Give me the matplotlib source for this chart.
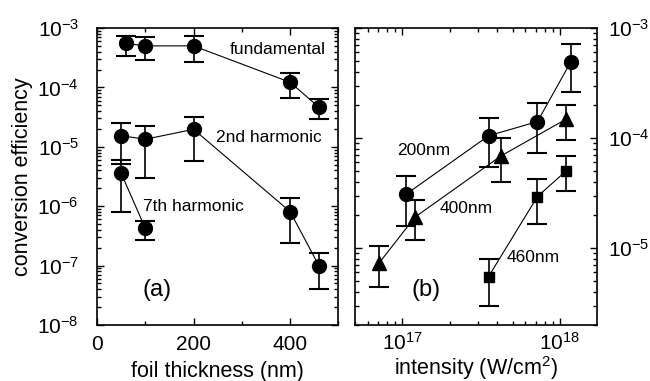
import numpy as np
import matplotlib
matplotlib.use('Agg')
import matplotlib.pyplot as plt
from matplotlib.ticker import LogLocator, MultipleLocator, NullFormatter

plt.rcParams['font.family'] = ['Liberation Sans', 'DejaVu Sans']
plt.rcParams['mathtext.fontset'] = 'custom'
plt.rcParams['mathtext.rm'] = 'Liberation Sans'
plt.rcParams['mathtext.it'] = 'Liberation Sans:italic'

# (a) efficiency vs foil thickness
fund_x = [60, 100, 200, 400, 460]
fund_y = [5.5e-4, 5.0e-4, 5.0e-4, 1.22e-4, 4.6e-5]
fund_hi = [7.4e-4, 7.0e-4, 7.4e-4, 1.77e-4, 6.3e-5]
fund_lo = [3.4e-4, 2.9e-4, 2.7e-4, 6.7e-5, 2.9e-5]

h2_x = [50, 100, 200, 400, 460]
h2_y = [1.54e-5, 1.34e-5, 1.97e-5, 8.1e-7, 9.8e-8]
h2_hi = [2.55e-5, 2.26e-5, 3.2e-5, 1.36e-6, 1.6e-7]
h2_lo = [5.1e-6, 3.0e-6, 5.8e-6, 2.4e-7, 4.0e-8]

h7_x = [50, 100]
h7_y = [3.6e-6, 4.25e-7]
h7_hi = [6.0e-6, 5.6e-7]
h7_lo = [8.1e-7, 2.7e-7]

# (b) efficiency vs intensity
t200_x = [1.06e17, 3.53e17, 7.2e17, 1.17e18]
t200_y = [3.1e-5, 1.05e-4, 1.41e-4, 4.9e-4]
t200_hi = [4.56e-5, 1.52e-4, 2.1e-4, 7.2e-4]
t200_lo = [1.6e-5, 5.5e-5, 7.3e-5, 2.6e-4]

t400_x = [7.1e16, 1.2e17, 4.24e17, 1.1e18]
t400_y = [7.3e-6, 1.91e-5, 6.9e-5, 1.49e-4]
t400_hi = [1.04e-5, 2.75e-5, 1.0e-4, 2.0e-4]
t400_lo = [4.4e-6, 1.18e-5, 4.0e-5, 9.6e-5]

t460_x = [3.52e17, 7.2e17, 1.1e18]
t460_y = [5.5e-6, 2.94e-5, 5.06e-5]
t460_hi = [7.9e-6, 4.2e-5, 6.8e-5]
t460_lo = [3.0e-6, 1.64e-5, 3.3e-5]


def draw(ax, x, y, hi, lo, marker, ms):
    y = np.array(y)
    err = [y - np.array(lo), np.array(hi) - y]
    ax.errorbar(x, y, yerr=err, fmt='none', ecolor='black', elinewidth=1.2,
                capsize=7.5, capthick=1.5, zorder=2)
    ax.plot(x, y, color='black', lw=0.8, marker=marker, ms=ms,
            mfc='black', mec='black', zorder=3)


fig = plt.figure(figsize=(6.5, 3.81), dpi=100)
ax1 = fig.add_axes([0.1492, 0.147, 0.3715, 0.7795])
ax2 = fig.add_axes([0.5462, 0.147, 0.3723, 0.7795])

draw(ax1, fund_x, fund_y, fund_hi, fund_lo, 'o', 10)
draw(ax1, h2_x, h2_y, h2_hi, h2_lo, 'o', 10)
draw(ax1, h7_x, h7_y, h7_hi, h7_lo, 'o', 10)

ax1.set_yscale('log')
ax1.set_xlim(0, 500)
ax1.set_ylim(1e-8, 1e-3)
ax1.xaxis.set_major_locator(MultipleLocator(200))
ax1.xaxis.set_minor_locator(MultipleLocator(100))
ax1.yaxis.set_major_locator(LogLocator(base=10, numticks=10))
ax1.yaxis.set_minor_locator(LogLocator(base=10, subs=np.arange(2, 10), numticks=20))
ax1.yaxis.set_minor_formatter(NullFormatter())
ax1.set_xlabel('foil thickness (nm)', fontsize=15.5, labelpad=5)
ax1.set_ylabel('conversion efficiency', fontsize=15.5, labelpad=3)
ax1.text(274, 4.3e-4, 'fundamental', fontsize=12.5, va='center')
ax1.text(247, 1.46e-5, '2nd harmonic', fontsize=12.5, va='center')
ax1.text(95, 1.0e-6, '7th harmonic', fontsize=12.5, va='center')
ax1.text(95, 3.9e-8, '(a)', fontsize=17, va='center')

draw(ax2, t200_x, t200_y, t200_hi, t200_lo, 'o', 10)
draw(ax2, t400_x, t400_y, t400_hi, t400_lo, '^', 9.5)
draw(ax2, t460_x, t460_y, t460_hi, t460_lo, 's', 7.5)

ax2.set_xscale('log')
ax2.set_yscale('log')
ax2.set_xlim(5e16, 1.72e18)
ax2.set_ylim(2e-6, 1e-3)
ax2.xaxis.set_major_locator(LogLocator(base=10, numticks=10))
ax2.xaxis.set_minor_locator(LogLocator(base=10, subs=np.arange(2, 10), numticks=20))
ax2.xaxis.set_minor_formatter(NullFormatter())
ax2.yaxis.set_major_locator(LogLocator(base=10, numticks=10))
ax2.yaxis.set_minor_locator(LogLocator(base=10, subs=np.arange(2, 10), numticks=20))
ax2.yaxis.set_minor_formatter(NullFormatter())
ax2.set_xlabel('intensity (W/cm$^2$)', fontsize=15.5, labelpad=0)
ax2.text(9.25e16, 7.7e-5, '200nm', fontsize=12.5, va='center')
ax2.text(1.71e17, 2.29e-5, '400nm', fontsize=12.5, va='center')
ax2.text(4.56e17, 8.26e-6, '460nm', fontsize=12.5, va='center')
ax2.text(1.14e17, 4.15e-6, '(b)', fontsize=17, va='center')

for ax in (ax1, ax2):
    ax.tick_params(which='both', direction='in', top=True, right=True,
                   labelsize=15, width=1)
    ax.tick_params(which='major', length=5)
    ax.tick_params(which='minor', length=3)
    for s in ax.spines.values():
        s.set_linewidth(1.2)

ax1.tick_params(axis='x', which='both', pad=7)
ax2.tick_params(axis='x', which='both', pad=5)
ax1.tick_params(axis='y', which='both', pad=13)
ax2.tick_params(axis='y', which='both', labelleft=False, labelright=True, pad=8)

fig.savefig('out.png', dpi=100)
